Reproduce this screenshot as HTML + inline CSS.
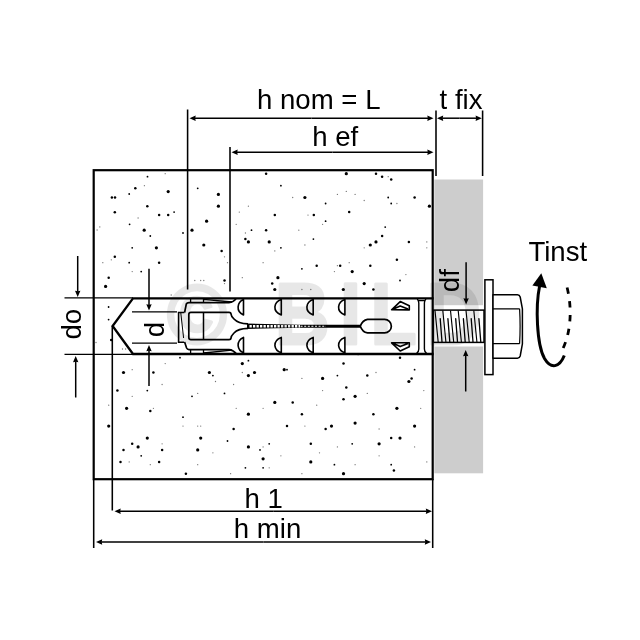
<!DOCTYPE html>
<html lang="de">
<head>
<meta charset="utf-8">
<title>Anchor installation diagram</title>
<style>
html,body{margin:0;padding:0;background:#fff;}
body{width:640px;height:640px;overflow:hidden;font-family:"Liberation Sans",Arial,sans-serif;}
svg{display:block;will-change:transform;}
</style>
</head>
<body>
<svg width="640" height="640" viewBox="0 0 640 640">
<rect width="640" height="640" fill="#fff"/>
<rect x="434.3" y="179.5" width="48.8" height="293.8" fill="#cdcdcd"/>
<rect x="434.3" y="305.2" width="48.8" height="41.3" fill="#fff"/>
<rect x="93.7" y="170.2" width="339" height="309" fill="#fff" stroke="#000" stroke-width="2.2"/>
<g fill="#000"><circle cx="147.5" cy="176.7" r="0.9"/><circle cx="165.2" cy="173.7" r="0.65" fill-opacity="0.55"/><circle cx="135.3" cy="188.3" r="1.25"/><circle cx="144.4" cy="185.7" r="0.65" fill-opacity="0.55"/><circle cx="168.2" cy="191.6" r="1.6"/><circle cx="111.9" cy="197.5" r="1.25"/><circle cx="115.0" cy="197.5" r="1.25"/><circle cx="129.2" cy="194.0" r="0.9"/><circle cx="147.3" cy="206.2" r="1.25"/><circle cx="114.8" cy="212.3" r="1.25"/><circle cx="159.1" cy="215.1" r="1.25"/><circle cx="168.2" cy="215.1" r="1.25"/><circle cx="174.1" cy="212.1" r="0.9"/><circle cx="138.1" cy="218.0" r="0.65" fill-opacity="0.55"/><circle cx="129.6" cy="224.3" r="0.9"/><circle cx="144.2" cy="230.2" r="1.6"/><circle cx="150.3" cy="236.0" r="0.9"/><circle cx="183.0" cy="233.0" r="0.9"/><circle cx="156.4" cy="247.8" r="1.6"/><circle cx="132.2" cy="247.8" r="0.9"/><circle cx="114.8" cy="256.8" r="1.25"/><circle cx="111.3" cy="259.8" r="0.65" fill-opacity="0.55"/><circle cx="102.8" cy="262.7" r="0.65" fill-opacity="0.55"/><circle cx="129.2" cy="262.7" r="0.9"/><circle cx="159.1" cy="262.7" r="1.25"/><circle cx="141.2" cy="271.6" r="0.9"/><circle cx="132.2" cy="271.6" r="0.65" fill-opacity="0.55"/><circle cx="108.7" cy="277.7" r="1.25"/><circle cx="105.6" cy="286.4" r="1.6"/><circle cx="97.1" cy="230.0" r="0.65" fill-opacity="0.55"/><circle cx="99.8" cy="226.9" r="0.65" fill-opacity="0.55"/><circle cx="197.7" cy="188.3" r="0.9"/><circle cx="218.4" cy="194.4" r="1.6"/><circle cx="218.4" cy="206.2" r="1.6"/><circle cx="206.6" cy="221.2" r="1.6"/><circle cx="192.0" cy="230.2" r="1.6"/><circle cx="203.8" cy="245.0" r="1.6"/><circle cx="194.8" cy="280.5" r="0.65" fill-opacity="0.55"/><circle cx="200.7" cy="280.5" r="0.65" fill-opacity="0.55"/><circle cx="203.8" cy="280.5" r="0.65" fill-opacity="0.55"/><circle cx="171.2" cy="295.0" r="0.65" fill-opacity="0.55"/><circle cx="266.1" cy="173.7" r="1.25"/><circle cx="346.3" cy="173.7" r="1.6"/><circle cx="280.9" cy="185.7" r="0.9"/><circle cx="304.9" cy="197.5" r="1.6"/><circle cx="292.7" cy="197.5" r="0.65" fill-opacity="0.55"/><circle cx="325.6" cy="203.5" r="0.9"/><circle cx="337.4" cy="194.4" r="0.65" fill-opacity="0.55"/><circle cx="346.3" cy="191.4" r="0.65" fill-opacity="0.55"/><circle cx="248.4" cy="206.2" r="0.65" fill-opacity="0.55"/><circle cx="239.3" cy="212.1" r="0.65" fill-opacity="0.55"/><circle cx="274.8" cy="215.1" r="1.25"/><circle cx="313.8" cy="215.1" r="1.25"/><circle cx="349.2" cy="212.1" r="1.25"/><circle cx="325.6" cy="221.2" r="0.9"/><circle cx="322.6" cy="224.3" r="0.65" fill-opacity="0.55"/><circle cx="308.0" cy="215.1" r="0.65" fill-opacity="0.55"/><circle cx="236.2" cy="224.3" r="0.65" fill-opacity="0.55"/><circle cx="251.5" cy="230.2" r="0.9"/><circle cx="266.1" cy="230.2" r="1.25"/><circle cx="298.8" cy="230.2" r="0.65" fill-opacity="0.55"/><circle cx="245.4" cy="233.0" r="0.65" fill-opacity="0.55"/><circle cx="245.4" cy="239.1" r="1.25"/><circle cx="248.4" cy="241.9" r="1.6"/><circle cx="269.2" cy="241.9" r="1.6"/><circle cx="313.4" cy="239.1" r="0.9"/><circle cx="304.9" cy="245.0" r="0.65" fill-opacity="0.55"/><circle cx="280.9" cy="247.8" r="0.9"/><circle cx="274.8" cy="250.9" r="0.65" fill-opacity="0.55"/><circle cx="221.6" cy="250.9" r="1.25"/><circle cx="224.5" cy="256.8" r="0.65" fill-opacity="0.55"/><circle cx="227.5" cy="262.7" r="0.65" fill-opacity="0.55"/><circle cx="263.1" cy="262.7" r="0.65" fill-opacity="0.55"/><circle cx="301.9" cy="268.8" r="0.9"/><circle cx="316.7" cy="265.7" r="1.25"/><circle cx="340.2" cy="265.7" r="1.25"/><circle cx="337.4" cy="265.7" r="0.65" fill-opacity="0.55"/><circle cx="334.4" cy="271.6" r="0.65" fill-opacity="0.55"/><circle cx="349.2" cy="262.7" r="0.65" fill-opacity="0.55"/><circle cx="242.3" cy="277.7" r="0.65" fill-opacity="0.55"/><circle cx="277.9" cy="277.7" r="1.6"/><circle cx="272.2" cy="283.6" r="1.25"/><circle cx="224.5" cy="280.5" r="1.25"/><circle cx="224.5" cy="283.6" r="0.65" fill-opacity="0.55"/><circle cx="274.8" cy="289.5" r="1.6"/><circle cx="301.9" cy="289.5" r="0.65" fill-opacity="0.55"/><circle cx="310.8" cy="289.5" r="0.65" fill-opacity="0.55"/><circle cx="343.3" cy="289.5" r="1.6"/><circle cx="376.0" cy="173.7" r="1.25"/><circle cx="382.1" cy="176.7" r="1.25"/><circle cx="388.2" cy="176.7" r="0.65" fill-opacity="0.55"/><circle cx="391.2" cy="179.6" r="1.25"/><circle cx="355.1" cy="194.4" r="0.65" fill-opacity="0.55"/><circle cx="364.2" cy="200.5" r="0.65" fill-opacity="0.55"/><circle cx="388.2" cy="197.5" r="0.9"/><circle cx="414.6" cy="197.5" r="1.25"/><circle cx="391.2" cy="203.5" r="0.9"/><circle cx="396.9" cy="203.5" r="0.65" fill-opacity="0.55"/><circle cx="429.4" cy="206.2" r="1.6"/><circle cx="385.2" cy="227.1" r="0.9"/><circle cx="382.1" cy="236.0" r="1.25"/><circle cx="376.0" cy="241.9" r="1.6"/><circle cx="370.3" cy="245.0" r="1.6"/><circle cx="364.2" cy="247.8" r="0.65" fill-opacity="0.55"/><circle cx="408.9" cy="241.9" r="1.25"/><circle cx="426.8" cy="241.9" r="0.65" fill-opacity="0.55"/><circle cx="426.8" cy="247.8" r="0.65" fill-opacity="0.55"/><circle cx="396.9" cy="259.8" r="1.25"/><circle cx="370.3" cy="265.7" r="1.25"/><circle cx="352.2" cy="271.6" r="1.6"/><circle cx="405.9" cy="274.6" r="0.65" fill-opacity="0.55"/><circle cx="400.0" cy="280.5" r="0.9"/><circle cx="364.2" cy="283.6" r="1.6"/><circle cx="373.4" cy="289.5" r="1.25"/><circle cx="180.0" cy="357.7" r="0.9"/><circle cx="165.2" cy="363.6" r="0.65" fill-opacity="0.55"/><circle cx="123.5" cy="372.5" r="1.6"/><circle cx="132.2" cy="369.7" r="0.65" fill-opacity="0.55"/><circle cx="153.4" cy="372.5" r="1.25"/><circle cx="209.4" cy="372.5" r="1.6"/><circle cx="212.9" cy="375.6" r="0.9"/><circle cx="215.5" cy="381.5" r="0.65" fill-opacity="0.55"/><circle cx="162.1" cy="384.5" r="0.65" fill-opacity="0.55"/><circle cx="117.4" cy="390.6" r="1.25"/><circle cx="147.3" cy="390.6" r="0.9"/><circle cx="132.2" cy="396.3" r="0.65" fill-opacity="0.55"/><circle cx="192.0" cy="396.3" r="0.9"/><circle cx="197.7" cy="393.4" r="0.65" fill-opacity="0.55"/><circle cx="108.7" cy="405.2" r="0.65" fill-opacity="0.55"/><circle cx="126.6" cy="408.3" r="1.6"/><circle cx="150.3" cy="411.1" r="1.25"/><circle cx="153.4" cy="408.3" r="0.65" fill-opacity="0.55"/><circle cx="183.0" cy="417.2" r="0.9"/><circle cx="108.7" cy="426.1" r="1.6"/><circle cx="183.0" cy="426.1" r="0.65" fill-opacity="0.55"/><circle cx="197.7" cy="426.1" r="0.65" fill-opacity="0.55"/><circle cx="200.7" cy="426.1" r="0.65" fill-opacity="0.55"/><circle cx="147.3" cy="438.1" r="1.6"/><circle cx="200.7" cy="438.1" r="1.6"/><circle cx="132.2" cy="443.8" r="1.25"/><circle cx="138.1" cy="446.9" r="1.6"/><circle cx="162.1" cy="443.8" r="0.65" fill-opacity="0.55"/><circle cx="123.5" cy="449.9" r="1.25"/><circle cx="162.1" cy="449.9" r="1.25"/><circle cx="197.7" cy="449.9" r="1.6"/><circle cx="212.9" cy="452.8" r="0.65" fill-opacity="0.55"/><circle cx="141.2" cy="455.8" r="0.9"/><circle cx="120.5" cy="461.9" r="1.25"/><circle cx="129.2" cy="461.9" r="0.65" fill-opacity="0.55"/><circle cx="159.1" cy="461.9" r="1.25"/><circle cx="150.3" cy="464.7" r="0.65" fill-opacity="0.55"/><circle cx="197.7" cy="464.7" r="0.65" fill-opacity="0.55"/><circle cx="185.9" cy="473.7" r="1.25"/><circle cx="242.3" cy="363.6" r="1.6"/><circle cx="248.4" cy="360.7" r="0.9"/><circle cx="242.3" cy="372.5" r="0.65" fill-opacity="0.55"/><circle cx="248.4" cy="375.6" r="1.6"/><circle cx="254.5" cy="372.5" r="1.6"/><circle cx="284.2" cy="369.7" r="1.6"/><circle cx="287.0" cy="369.7" r="0.9"/><circle cx="343.5" cy="363.6" r="1.25"/><circle cx="301.9" cy="378.4" r="0.65" fill-opacity="0.55"/><circle cx="322.6" cy="378.4" r="1.6"/><circle cx="337.4" cy="375.6" r="0.9"/><circle cx="233.6" cy="384.5" r="0.65" fill-opacity="0.55"/><circle cx="224.5" cy="393.4" r="0.9"/><circle cx="322.6" cy="390.6" r="0.65" fill-opacity="0.55"/><circle cx="346.3" cy="387.5" r="1.25"/><circle cx="343.5" cy="399.3" r="1.25"/><circle cx="274.8" cy="402.4" r="1.6"/><circle cx="292.7" cy="402.4" r="1.25"/><circle cx="263.1" cy="408.3" r="0.65" fill-opacity="0.55"/><circle cx="236.2" cy="408.3" r="0.65" fill-opacity="0.55"/><circle cx="316.7" cy="405.2" r="0.65" fill-opacity="0.55"/><circle cx="248.4" cy="414.2" r="1.6"/><circle cx="301.9" cy="414.2" r="1.25"/><circle cx="233.6" cy="429.0" r="1.25"/><circle cx="287.0" cy="426.1" r="1.25"/><circle cx="304.9" cy="426.1" r="0.65" fill-opacity="0.55"/><circle cx="325.6" cy="429.0" r="1.25"/><circle cx="331.5" cy="426.1" r="1.6"/><circle cx="227.5" cy="441.0" r="0.9"/><circle cx="248.4" cy="446.9" r="1.6"/><circle cx="269.2" cy="443.8" r="0.9"/><circle cx="260.0" cy="449.9" r="0.9"/><circle cx="263.1" cy="446.9" r="0.65" fill-opacity="0.55"/><circle cx="310.8" cy="443.8" r="1.25"/><circle cx="337.4" cy="446.9" r="0.65" fill-opacity="0.55"/><circle cx="319.5" cy="452.8" r="0.65" fill-opacity="0.55"/><circle cx="263.1" cy="458.8" r="1.6"/><circle cx="280.9" cy="455.8" r="0.65" fill-opacity="0.55"/><circle cx="310.8" cy="461.9" r="1.6"/><circle cx="334.4" cy="464.7" r="0.9"/><circle cx="245.4" cy="467.8" r="0.9"/><circle cx="263.1" cy="467.8" r="0.9"/><circle cx="269.2" cy="467.8" r="0.65" fill-opacity="0.55"/><circle cx="230.6" cy="473.7" r="0.65" fill-opacity="0.55"/><circle cx="301.9" cy="473.7" r="0.65" fill-opacity="0.55"/><circle cx="343.5" cy="473.7" r="1.6"/><circle cx="400.0" cy="357.7" r="1.25"/><circle cx="358.1" cy="354.8" r="0.65" fill-opacity="0.55"/><circle cx="414.6" cy="369.7" r="0.9"/><circle cx="376.0" cy="372.5" r="0.65" fill-opacity="0.55"/><circle cx="367.3" cy="375.6" r="1.25"/><circle cx="411.6" cy="378.4" r="1.25"/><circle cx="408.9" cy="381.5" r="1.6"/><circle cx="423.8" cy="390.6" r="0.65" fill-opacity="0.55"/><circle cx="355.1" cy="396.3" r="1.6"/><circle cx="367.3" cy="393.4" r="0.65" fill-opacity="0.55"/><circle cx="396.9" cy="408.3" r="1.6"/><circle cx="420.7" cy="408.3" r="0.65" fill-opacity="0.55"/><circle cx="373.4" cy="414.2" r="1.25"/><circle cx="355.1" cy="423.1" r="1.6"/><circle cx="414.6" cy="426.1" r="1.6"/><circle cx="379.1" cy="429.0" r="0.65" fill-opacity="0.55"/><circle cx="391.2" cy="438.1" r="1.25"/><circle cx="400.0" cy="438.1" r="1.6"/><circle cx="379.1" cy="443.8" r="1.6"/><circle cx="352.2" cy="443.8" r="0.9"/><circle cx="414.6" cy="446.9" r="0.65" fill-opacity="0.55"/><circle cx="379.1" cy="455.8" r="0.65" fill-opacity="0.55"/><circle cx="426.8" cy="461.9" r="0.65" fill-opacity="0.55"/><circle cx="391.2" cy="464.7" r="0.9"/><circle cx="355.1" cy="464.7" r="0.65" fill-opacity="0.55"/><circle cx="393.9" cy="470.6" r="1.25"/><circle cx="108.6" cy="307" r="0.9"/><circle cx="108.6" cy="319.6" r="0.9"/><circle cx="111.2" cy="340" r="1.25"/><circle cx="122.5" cy="349" r="0.65" fill-opacity="0.55"/><circle cx="125.6" cy="349" r="0.65" fill-opacity="0.55"/><circle cx="96" cy="342.5" r="0.65" fill-opacity="0.55"/></g>
<path d="M433.6,298.3 H133 L112.6,326 L133,354.0 H433.6" fill="none" stroke="#000" stroke-width="2.3" stroke-linejoin="miter"/>
<path d="M64.5,297.9 H133 M64.5,354.4 H133" stroke="#000" stroke-width="1.3" fill="none"/>
<path d="M132,311.8 H177 M132,343.2 H177" stroke="#000" stroke-width="1.2" fill="none"/>
<path d="M187.6,109.5 V289.5 M230,147 V291.5 M436,110.5 V176 M482.6,110.5 V176 M93.7,479 V548 M112.3,326 V510.5 M432.7,479 V548" stroke="#000" stroke-width="1.55" fill="none"/>
<line x1="311.50" y1="118.20" x2="194.70" y2="118.20" stroke="#000" stroke-width="1.5"/><polygon points="189.50,118.20 195.70,115.50 195.20,118.20 195.70,120.90" fill="#000"/><line x1="311.50" y1="118.20" x2="428.30" y2="118.20" stroke="#000" stroke-width="1.5"/><polygon points="433.50,118.20 427.30,120.90 427.80,118.20 427.30,115.50" fill="#000"/>
<line x1="332.50" y1="152.20" x2="236.70" y2="152.20" stroke="#000" stroke-width="1.5"/><polygon points="231.50,152.20 237.70,149.50 237.20,152.20 237.70,154.90" fill="#000"/><line x1="332.50" y1="152.20" x2="428.30" y2="152.20" stroke="#000" stroke-width="1.5"/><polygon points="433.50,152.20 427.30,154.90 427.80,152.20 427.30,149.50" fill="#000"/>
<line x1="459.40" y1="118.20" x2="442.20" y2="118.20" stroke="#000" stroke-width="1.5"/><polygon points="437.00,118.20 443.20,115.50 442.70,118.20 443.20,120.90" fill="#000"/><line x1="459.40" y1="118.20" x2="476.60" y2="118.20" stroke="#000" stroke-width="1.5"/><polygon points="481.80,118.20 475.60,120.90 476.10,118.20 475.60,115.50" fill="#000"/>
<line x1="273.25" y1="511.20" x2="119.70" y2="511.20" stroke="#000" stroke-width="1.5"/><polygon points="114.50,511.20 120.70,508.50 120.20,511.20 120.70,513.90" fill="#000"/><line x1="273.25" y1="511.20" x2="426.80" y2="511.20" stroke="#000" stroke-width="1.5"/><polygon points="432.00,511.20 425.80,513.90 426.30,511.20 425.80,508.50" fill="#000"/>
<line x1="263.50" y1="542.00" x2="101.20" y2="542.00" stroke="#000" stroke-width="1.5"/><polygon points="96.00,542.00 102.20,539.30 101.70,542.00 102.20,544.70" fill="#000"/><line x1="263.50" y1="542.00" x2="425.80" y2="542.00" stroke="#000" stroke-width="1.5"/><polygon points="431.00,542.00 424.80,544.70 425.30,542.00 424.80,539.30" fill="#000"/>
<line x1="77.70" y1="256.00" x2="77.70" y2="291.80" stroke="#000" stroke-width="1.5"/><polygon points="77.70,297.00 75.00,290.80 77.70,291.30 80.40,290.80" fill="#000"/>
<line x1="75.70" y1="397.50" x2="75.70" y2="361.20" stroke="#000" stroke-width="1.5"/><polygon points="75.70,356.00 78.40,362.20 75.70,361.70 73.00,362.20" fill="#000"/>
<line x1="149.00" y1="268.70" x2="149.00" y2="305.30" stroke="#000" stroke-width="1.5"/><polygon points="149.00,310.50 146.30,304.30 149.00,304.80 151.70,304.30" fill="#000"/>
<line x1="149.00" y1="386.00" x2="149.00" y2="350.20" stroke="#000" stroke-width="1.5"/><polygon points="149.00,345.00 151.70,351.20 149.00,350.70 146.30,351.20" fill="#000"/>
<line x1="466.10" y1="262.20" x2="466.10" y2="299.20" stroke="#000" stroke-width="1.5"/><polygon points="466.10,304.40 463.40,298.20 466.10,298.70 468.80,298.20" fill="#000"/>
<line x1="465.70" y1="391.50" x2="465.70" y2="355.20" stroke="#000" stroke-width="1.5"/><polygon points="465.70,350.00 468.40,356.20 465.70,355.70 463.00,356.20" fill="#000"/>
<path d="M184.4,312.5 H178.6 V342.3 H184.2" fill="none" stroke="#000" stroke-width="1.6"/><path d="M180.8,313 L183.6,338" fill="none" stroke="#000" stroke-width="1"/><path d="M184.6,312.5 L186.3,304 Q187,302.6 189,302.6 H229 Q233,302.4 236,299 M184.6,342 L186.6,348 Q187.3,349.6 189,349.6 H229 Q233,349.8 236,353.4" fill="none" stroke="#000" stroke-width="1.7"/><path d="M190.6,298 V302.5 M203.5,298 V302.5 M203.5,299.3 L232,302 M190.6,354 V349.6 M203.5,354 V349.6 M203.5,353 L232,350.2" fill="none" stroke="#000" stroke-width="1.3"/><path d="M248,323.8 Q238,323.5 234,319 Q231,316 231,314 Q231,312.3 229,312.3 H191 Q188.8,312.3 188.8,314.5 V337.5 Q188.8,339.6 191,339.6 H229 Q231,339.6 231,338 Q231,336 234,333 Q238,328.6 248,328.4" fill="none" stroke="#000" stroke-width="1.7"/><path d="M203.5,312.3 V339.6" stroke="#000" stroke-width="1.5"/><path d="M247,323.6 L300,324.7 H361 V327.8 H300 L247,328.9 Z" fill="#000"/><path d="M249.5,326.25 H300" stroke="#fff" stroke-width="2.3" stroke-dasharray="2.3 1.2" fill="none"/><path d="M300.6,326.25 H326" stroke="#fff" stroke-width="1.1" stroke-dasharray="2 1.6" fill="none"/><path d="M360.3,326.2 Q362.5,320.2 367.5,319.4 H384.6 A6.75,6.75 0 0 1 384.6,332.9 H367.5 Q362.5,332.2 360.3,326.2 Z" fill="#fff" stroke="#000" stroke-width="1.7" stroke-linejoin="round"/><path d="M243.5,299.6 V315 Q237.7,312.4 238.1,306.8 Q238.7,301.6 243.5,299.6 Z" fill="none" stroke="#000" stroke-width="1.6" stroke-linejoin="round"/><path d="M243.5,352.8 V337.4 Q237.7,340 238.1,345.6 Q238.7,350.8 243.5,352.8 Z" fill="none" stroke="#000" stroke-width="1.6" stroke-linejoin="round"/><path d="M281.3,299.6 V315 Q274.50000000000006,312.4 274.90000000000003,306.8 Q275.50000000000006,301.6 281.3,299.6 Z" fill="none" stroke="#000" stroke-width="1.6" stroke-linejoin="round"/><path d="M281.3,352.8 V337.4 Q274.50000000000006,340 274.90000000000003,345.6 Q275.50000000000006,350.8 281.3,352.8 Z" fill="none" stroke="#000" stroke-width="1.6" stroke-linejoin="round"/><path d="M313.2,299.6 V315 Q306.5,312.4 306.9,306.8 Q307.5,301.6 313.2,299.6 Z" fill="none" stroke="#000" stroke-width="1.6" stroke-linejoin="round"/><path d="M313.2,352.8 V337.4 Q306.5,340 306.9,345.6 Q307.5,350.8 313.2,352.8 Z" fill="none" stroke="#000" stroke-width="1.6" stroke-linejoin="round"/><path d="M344.9,299.6 V315 Q338.2,312.4 338.59999999999997,306.8 Q339.2,301.6 344.9,299.6 Z" fill="none" stroke="#000" stroke-width="1.6" stroke-linejoin="round"/><path d="M344.9,352.8 V337.4 Q338.2,340 338.59999999999997,345.6 Q339.2,350.8 344.9,352.8 Z" fill="none" stroke="#000" stroke-width="1.6" stroke-linejoin="round"/><path d="M391.6,309.8 L400.2,301.6 L409.3,305.8 V309.9 Z M393.5,309 L400.2,306 L408,309" fill="none" stroke="#000" stroke-width="1.6" stroke-linejoin="round"/><path d="M391.6,342.8 L400.2,351 L409.3,346.8 V342.7 Z M393.5,343.6 L400.2,346.6 L408,343.6" fill="none" stroke="#000" stroke-width="1.6" stroke-linejoin="round"/><path d="M417.2,299 Q418.8,300.5 418.8,303 V349 Q418.8,352 416.6,353.4 M426,299 Q424.4,300.5 424.4,303 V349 Q424.4,352 426.6,353.4 M417.5,300.6 H425.6" fill="none" stroke="#000" stroke-width="1.4"/>
<rect x="433.4" y="310.1" width="50.6" height="32.3" fill="#fff" stroke="#000" stroke-width="1.5"/>
<path d="M435.0,310.5 L438.2,342 M442.8,310.5 L445.9,342 M450.5,310.5 L453.7,342 M458.2,310.5 L461.4,342 M466.0,310.5 L469.2,342 M473.8,310.5 L476.9,342 " stroke="#000" stroke-width="1.15" fill="none"/>
<path d="M442.0,342 L440.2,318.6 M449.8,342 L447.9,318.6 M457.5,342 L455.7,318.6 M465.2,342 L463.4,318.6 M473.0,342 L471.2,318.6 M480.8,342 L478.9,318.6 " stroke="#000" stroke-width="1.3" fill="none" stroke-linecap="round"/>
<rect x="484.9" y="279.8" width="8.1" height="94.8" fill="#fff" stroke="#000" stroke-width="1.5"/>
<path d="M493,294.8 H517.5 Q519.5,294.8 520.2,297 L522.4,308.8 V343.8 L520.2,356 Q519.5,358.2 517.5,358.2 H493 Z" fill="#fff" stroke="#000" stroke-width="1.5" stroke-linejoin="round"/>
<path d="M493,308.9 H519.6 M493,343.6 H519.6 M519.6,308.9 Q520.6,326 519.6,343.6" stroke="#000" stroke-width="1.2" fill="none"/>
<path d="M539.6,286 C535.5,306 536.5,344 544.5,358.5 C551,369.5 559.5,367.5 564.3,355.5" fill="none" stroke="#000" stroke-width="3"/>
<path d="M563.2,348 C571.5,330 572,306 566.8,286.4" fill="none" stroke="#000" stroke-width="2.8" stroke-dasharray="6.4 7.4"/>
<polygon points="541.3,273.2 546.8,288.2 532.4,285.6" fill="#000"/>
<g opacity="0.09" fill="#000" stroke="#000" stroke-width="3" stroke-linejoin="round" font-family="'Liberation Sans',Arial,sans-serif" font-weight="bold" font-size="84"><text transform="translate(167,343) scale(0.968,1)">©</text><text transform="translate(0,343.97) scale(0.9,1.033)" x="305.44 377.9 411.6 473.8" y="0">BILD</text></g>
<g font-family="'Liberation Sans',Arial,sans-serif" font-size="27.6" fill="#000"><text x="257" y="109.3">h nom = L</text><text x="312.2" y="146.3">h ef</text><text x="439.6" y="109.3">t fix</text><text x="244.5" y="507.6">h 1</text><text x="233.8" y="537.8">h min</text><text x="528.4" y="260.7">Tinst</text><text transform="translate(80.6,339.6) rotate(-90)">do</text><text transform="translate(164.3,337.2) rotate(-90)">d</text><text transform="translate(458.7,292.2) rotate(-90)">df</text></g>
</svg>
</body>
</html>
